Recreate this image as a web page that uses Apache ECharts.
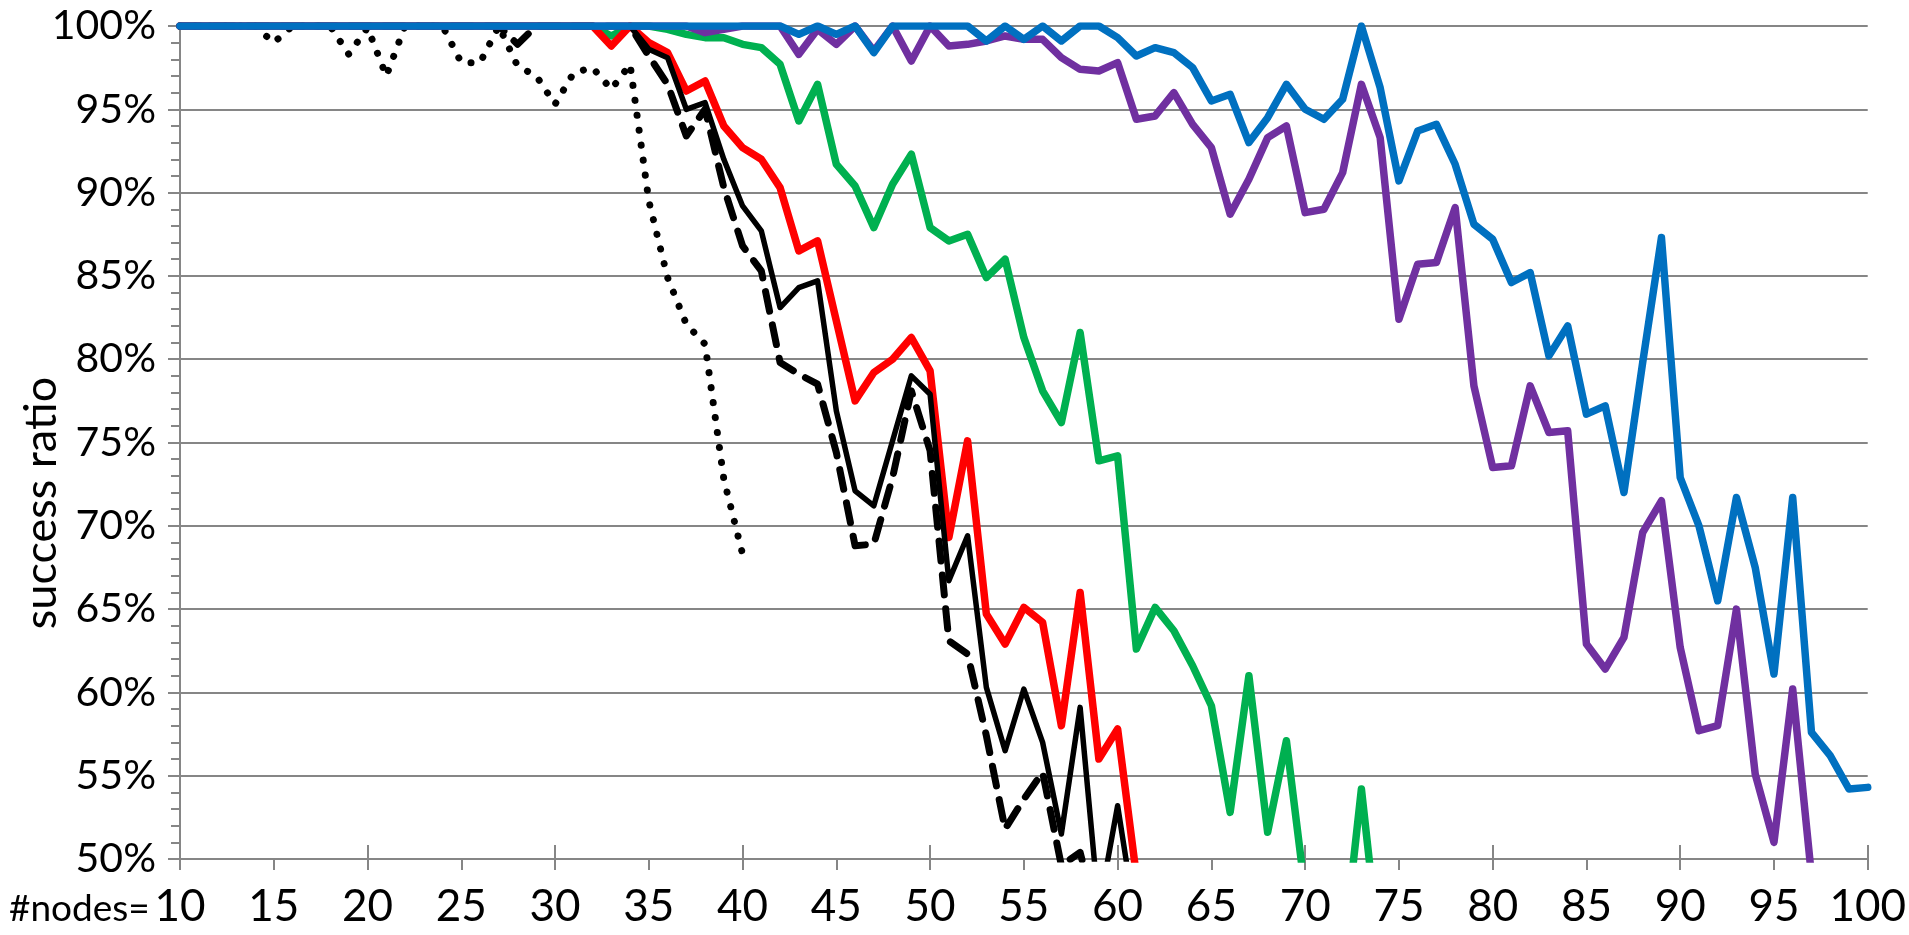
<!DOCTYPE html>
<html>
<head>
<meta charset="utf-8">
<title>success ratio</title>
<script src="https://cdn.jsdelivr.net/npm/echarts@6/dist/echarts.min.js"></script>
<style>
  html, body { margin: 0; padding: 0; background: #fff; }
  #chart { width: 1909px; height: 935px; }
</style>
</head>
<body>
<div id="chart"></div>
<script>
// x = #nodes, every series starts at 10 nodes
var firstNode = 10;
var xTicks = [10, 15, 20, 25, 30, 35, 40, 45, 50, 55, 60, 65, 70, 75, 80, 85, 90, 95, 100];
var yTicks = [50, 55, 60, 65, 70, 75, 80, 85, 90, 95, 100];

// success ratio in %
var dotted = [100, 100, 100, 100, 100, 99.0, 100, 100, 100, 98.3,
  99.9, 97.0, 100, 100, 100, 97.8, 97.8, 100, 97.6, 97.0,
  95.3, 97.2, 97.5, 96.2, 97.7, 89.5, 84.9, 82.1, 80.9, 72.8,
  68.3];

var dashed = [100, 100, 100, 100, 100, 100, 100, 100, 100, 100,
  100, 100, 100, 100, 100, 100, 100, 100, 98.9, 100,
  100, 100, 100, 100, 100, 98.2, 96.5, 93.4, 95.0, 90.3,
  86.8, 85.3, 79.8, 79.1, 78.5, 74.4, 68.8, 68.9, 72.9, 78.1,
  74.5, 63.1, 62.3, 57.4, 51.8, 53.6, 55.2, 49.6, 50.4, 46.0];

var black = [100, 100, 100, 100, 100, 100, 100, 100, 100, 100,
  100, 100, 100, 100, 100, 100, 100, 100, 100, 100,
  100, 100, 100, 100, 100, 98.6, 98.1, 95.0, 95.4, 92.0,
  89.2, 87.7, 83.1, 84.3, 84.7, 76.9, 72.1, 71.2, 75.1, 79.0,
  77.9, 66.7, 69.4, 60.3, 56.5, 60.2, 57.0, 51.5, 59.1, 47.0,
  53.2, 46.0];

var red = [100, 100, 100, 100, 100, 100, 100, 100, 100, 100,
  100, 100, 100, 100, 100, 100, 100, 100, 100, 100,
  100, 100, 100, 98.8, 100, 99.0, 98.4, 96.1, 96.7, 94.0,
  92.7, 92.0, 90.3, 86.5, 87.1, 82.3, 77.5, 79.2, 80.0, 81.3,
  79.3, 69.3, 75.1, 64.7, 62.9, 65.1, 64.2, 58.0, 66.0, 56.0,
  57.8, 49.0];

var green = [100, 100, 100, 100, 100, 100, 100, 100, 100, 100,
  100, 100, 100, 100, 100, 100, 100, 100, 100, 100,
  100, 100, 100, 99.4, 100, 100, 99.8, 99.5, 99.3, 99.3,
  98.9, 98.7, 97.7, 94.3, 96.5, 91.7, 90.4, 87.9, 90.5, 92.3,
  87.9, 87.1, 87.5, 84.9, 86.0, 81.3, 78.1, 76.2, 81.6, 73.9,
  74.2, 62.6, 65.1, 63.7, 61.6, 59.2, 52.8, 61.0, 51.6, 57.1,
  48.0, 44.0, 44.0, 54.2, 44.0];

var purple = [100, 100, 100, 100, 100, 100, 100, 100, 100, 100,
  100, 100, 100, 100, 100, 100, 100, 100, 100, 100,
  100, 100, 100, 100, 100, 100, 100, 100, 99.6, 99.8,
  100, 100, 100, 98.3, 99.8, 98.9, 100, 98.5, 100, 97.9,
  100, 98.8, 98.9, 99.1, 99.4, 99.2, 99.2, 98.1, 97.4, 97.3,
  97.8, 94.4, 94.6, 96.0, 94.1, 92.7, 88.7, 90.8, 93.3, 94.0,
  88.8, 89.0, 91.2, 96.5, 93.3, 82.4, 85.7, 85.8, 89.1, 78.4,
  73.5, 73.6, 78.4, 75.6, 75.7, 62.9, 61.4, 63.3, 69.6, 71.5,
  62.7, 57.7, 58.0, 65.0, 55.1, 51.0, 60.2, 49.0];

var blue = [100, 100, 100, 100, 100, 100, 100, 100, 100, 100,
  100, 100, 100, 100, 100, 100, 100, 100, 100, 100,
  100, 100, 100, 100, 100, 100, 100, 100, 100, 100,
  100, 100, 100, 99.5, 100, 99.5, 100, 98.4, 100, 100,
  100, 100, 100, 99.1, 100, 99.2, 100, 99.1, 100, 100,
  99.3, 98.2, 98.7, 98.4, 97.5, 95.5, 95.9, 93.0, 94.5, 96.5,
  95.0, 94.4, 95.6, 100, 96.3, 90.7, 93.7, 94.1, 91.7, 88.1,
  87.2, 84.6, 85.2, 80.2, 82.0, 76.7, 77.2, 72.0, 79.8, 87.3,
  72.9, 70.0, 65.5, 71.7, 67.5, 61.1, 71.7, 57.6, 56.2, 54.2,
  54.3];

function pairs(vals) {
  return vals.map(function (v, i) { return [firstNode + i, v]; });
}

var gridGray = '#868686';
var font = 'Lato, "Open Sans", sans-serif';

function line(name, vals, color, width, dash) {
  return {
    name: name,
    type: 'line',
    data: pairs(vals),
    symbol: 'none',
    clip: true,
    lineStyle: {
      color: color,
      width: width,
      type: dash || 'solid',
      cap: 'round',
      join: 'round'
    }
  };
}

var myChart = echarts.init(document.getElementById('chart'));
var option = {
  animation: false,
  backgroundColor: '#fff',
  grid: { left: 180, right: 38, top: 26, bottom: 76 },
  xAxis: [{
    type: 'value',
    min: xTicks[0],
    max: xTicks[xTicks.length - 1],
    interval: 5,
    axisLine: { lineStyle: { color: gridGray, width: 2 } },
    axisTick: { show: true, length: 11, lineStyle: { color: gridGray, width: 2 } },
    axisLabel: { color: '#000', fontSize: 44, fontFamily: font, margin: 26 },
    splitLine: { show: false }
  }, {
    // long ticks every 10, crossing the axis upward
    type: 'value',
    position: 'bottom',
    min: xTicks[0],
    max: xTicks[xTicks.length - 1],
    interval: 10,
    axisLine: { show: false },
    axisTick: { show: true, inside: true, length: 14, lineStyle: { color: gridGray, width: 2 } },
    axisLabel: { show: false },
    splitLine: { show: false }
  }],
  yAxis: {
    type: 'value',
    min: yTicks[0],
    max: yTicks[yTicks.length - 1],
    interval: 5,
    axisLine: { show: true, lineStyle: { color: gridGray, width: 2 } },
    axisTick: { show: true, length: 12, lineStyle: { color: gridGray, width: 2 } },
    minorTick: { show: true, splitNumber: 5, length: 9, lineStyle: { color: gridGray, width: 2 } },
    axisLabel: {
      color: '#000', fontSize: 41, fontFamily: font, margin: 24,
      formatter: '{value}%'
    },
    splitLine: { show: true, lineStyle: { color: gridGray, width: 2 } }
  },
  graphic: [{
    type: 'text',
    x: 41,
    y: 503,
    rotation: Math.PI / 2,
    style: {
      text: 'success ratio',
      fill: '#000',
      font: '45px ' + font,
      textAlign: 'center',
      textVerticalAlign: 'middle'
    }
  }, {
    type: 'text',
    left: 9,
    top: 891,
    style: {
      text: '#nodes=',
      fill: '#000',
      font: '37px ' + font
    }
  }],
  series: [
    line('green', green, '#00B050', 7.5),
    line('red', red, '#FF0000', 7.5),
    line('dashed', dashed, '#000000', 7, [20, 14]),
    line('dotted', dotted, '#000000', 7, [0.1, 15]),
    line('black', black, '#000000', 5.5),
    line('purple', purple, '#7030A0', 7.5),
    line('blue', blue, '#0070C0', 7.5)
  ]
};
myChart.setOption(option);

window.addEventListener('resize', function () {
  myChart.resize();
});
</script>
</body>
</html>
